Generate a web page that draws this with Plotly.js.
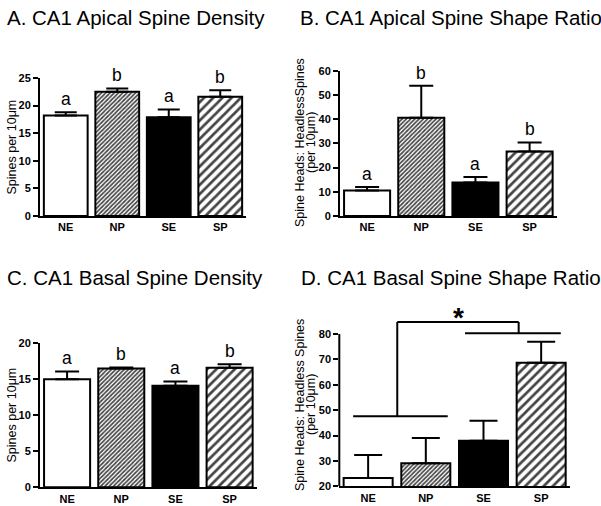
<!DOCTYPE html>
<html>
<head>
<meta charset="utf-8">
<script src="https://cdn.plot.ly/plotly-3.0.1.min.js"></script>
<style>html,body{margin:0;padding:0;background:#fff;}#chart{width:601px;height:506px;}</style>
</head>
<body>
<div id="chart"></div>
<script>
// ---- data ----
var groups = ["NE", "NP", "SE", "SP"];
var sigLetters = ["a", "b", "a", "b"];

var apicalDensity = [18.2, 22.5, 17.9, 21.6];
var apicalDensitySem = [0.6, 0.6, 1.4, 1.2];

var apicalShape = [10.5, 40.6, 13.8, 26.6];
var apicalShapeSem = [1.5, 13.2, 2.3, 3.8];

var basalDensity = [15.0, 16.5, 14.1, 16.6];
var basalDensitySem = [1.1, 0.15, 0.6, 0.5];

var basalShape = [23.3, 29.1, 37.9, 68.6];
var basalShapeSem = [9.0, 9.9, 7.9, 8.3];

var panelTitles = ["A. CA1 Apical Spine Density", "B. CA1 Apical Spine Shape Ratio",
                   "C. CA1 Basal Spine Density", "D. CA1 Basal Spine Shape Ratio"];

// ---- styles ----
var REG = "Liberation Sans, Arial, sans-serif";
var W = 601, H = 506;
function px(x){ return x / W; }
function py(y){ return 1 - y / H; }

var barColors = ["white", "white", "black", "white"];
var patShapes = ["", "/", "", "/"];
var patSizes = [4, 3, 4, 6.5];
var patSolid = [0.3, 0.55, 0.3, 0.42];

function barTrace(vals, sems, xa, ya, capw) {
  return {
    type: "bar", x: groups, y: vals, xaxis: xa, yaxis: ya,
    marker: {
      color: barColors,
      line: {color: "black", width: 2},
      pattern: {shape: patShapes, size: patSizes, solidity: patSolid, fgcolor: "black",
                fgopacity: 1, fillmode: "overlay"}
    },
    error_y: {type: "data", symmetric: false, array: sems, arrayminus: sems.map(function(){return 0;}),
              color: "black", thickness: 2, width: capw},
    hoverinfo: "skip", showlegend: false
  };
}

var data = [
  barTrace(apicalDensity, apicalDensitySem, "x", "y", 11),
  barTrace(apicalShape, apicalShapeSem, "x2", "y2", 12),
  barTrace(basalDensity, basalDensitySem, "x3", "y3", 12),
  barTrace(basalShape, basalShapeSem, "x4", "y4", 14)
];

function xax(d, anchor) {
  return {domain: d, anchor: anchor, range: [-0.5, 3.5], showline: true, linewidth: 2, linecolor: "black",
          ticks: "", showgrid: false, zeroline: false, fixedrange: true,
          tickfont: {family: REG, size: 11, color: "black", weight: "bold"}};
}
function yax(d, anchor, range, dtick, showline) {
  return {domain: d, anchor: anchor, range: range, dtick: dtick, showline: showline, linewidth: 2, linecolor: "black",
          ticks: "outside", ticklen: 5, tickwidth: 2, tickcolor: "black",
          showgrid: false, zeroline: false, fixedrange: true,
          tickfont: {family: REG, size: 11, color: "black", weight: "bold"}};
}

var annotations = [];
// titles
var titlePos = [[5, 17], [298, 17], [5, 277], [299, 277]];
panelTitles.forEach(function(t, i){
  annotations.push({text: t, xref: "paper", yref: "paper", x: px(titlePos[i][0]), y: py(titlePos[i][1]),
    xanchor: "left", yanchor: "middle", showarrow: false, font: {family: REG, size: 20.5, color: "black"}});
});
// y titles
function ytitle(text, x, y) {
  annotations.push({text: text, xref: "paper", yref: "paper", x: px(x), y: py(y), textangle: -90,
    xanchor: "center", yanchor: "middle", showarrow: false, font: {family: REG, size: 12.5, color: "black"}});
}
ytitle("Spines per 10\u03bcm", 11.5, 147);
ytitle("Spine Heads: HeadlessSpines", 300, 143);
ytitle("(per 10\u03bcm)", 311, 143);
ytitle("Spines per 10\u03bcm", 11.5, 415);
ytitle("Spine Heads: Headless Spines", 300, 405);
ytitle("(per 10\u03bcm)", 311, 405);

// significance letters
function letters(vals, sems, xa, ya) {
  groups.forEach(function(g, i){
    annotations.push({text: sigLetters[i], x: g, y: vals[i] + sems[i], xref: xa, yref: ya,
      xanchor: "center", yanchor: "bottom", yshift: 1, showarrow: false,
      font: {family: REG, size: 17.5, color: "black"}});
  });
}
letters(apicalDensity, apicalDensitySem, "x", "y");
letters(apicalShape, apicalShapeSem, "x2", "y2");
letters(basalDensity, basalDensitySem, "x3", "y3");

// star for D
annotations.push({text: "<b>*</b>", x: 1.57, y: 86.2, xref: "x4", yref: "y4", xanchor: "center", yanchor: "bottom",
  yshift: -17, showarrow: false, font: {family: REG, size: 28, color: "black"}});

var ln = {color: "black", width: 2};
var shapes = [
  // D y-axis line (only over the tick range)
  {type: "line", xref: "x4 domain", yref: "y4", x0: 0, x1: 0, y0: 20, y1: 80, line: ln},
  // brackets
  {type: "line", xref: "x4", yref: "y4", x0: -0.26, x1: 1.38, y0: 47.6, y1: 47.6, line: ln},
  {type: "line", xref: "x4", yref: "y4", x0: 0.505, x1: 0.505, y0: 47.6, y1: 84.7, line: ln},
  {type: "line", xref: "x4", yref: "y4", x0: 0.505, x1: 2.61, y0: 84.7, y1: 84.7, line: ln},
  {type: "line", xref: "x4", yref: "y4", x0: 2.61, x1: 2.61, y0: 84.7, y1: 80.3, line: ln},
  {type: "line", xref: "x4", yref: "y4", x0: 1.68, x1: 3.34, y0: 80.3, y1: 80.3, line: ln}
];

var layout = {
  width: W, height: H, margin: {l: 0, r: 0, t: 0, b: 0},
  paper_bgcolor: "white", plot_bgcolor: "white",
  bargap: 0.15, showlegend: false,
  font: {family: REG, color: "black"},
  xaxis: xax([px(40), px(246)], "y"),
  yaxis: yax([py(216), py(78)], "x", [0, 25], 5, true),
  xaxis2: xax([px(340), px(556.7)], "y2"),
  yaxis2: yax([py(216), py(70.7)], "x2", [0, 60], 10, true),
  xaxis3: xax([px(40), px(256.7)], "y3"),
  yaxis3: yax([py(487.3), py(343.3)], "x3", [0, 20], 5, true),
  xaxis4: xax([px(339.3), px(570)], "y4"),
  yaxis4: yax([py(486.3), py(313.6)], "x4", [20, 88], 10, false),
  annotations: annotations,
  shapes: shapes
};
layout.yaxis4.tickvals = [20, 30, 40, 50, 60, 70, 80];

Plotly.newPlot("chart", data, layout, {displayModeBar: false, staticPlot: true});
</script>
</body>
</html>
